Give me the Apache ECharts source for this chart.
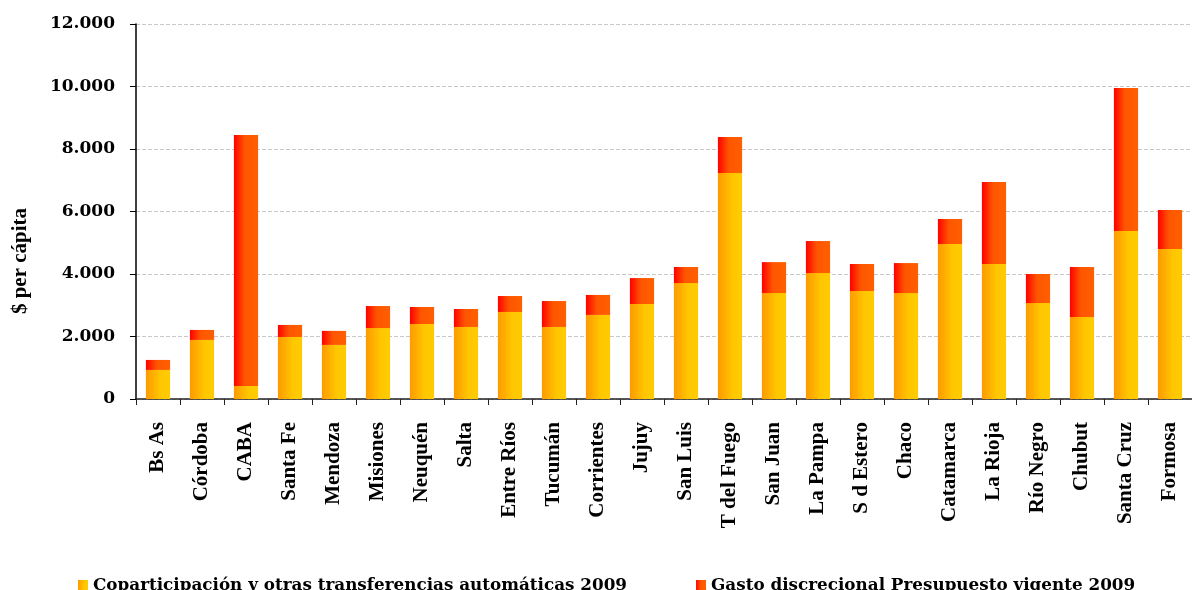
<!DOCTYPE html>
<html>
<head>
<meta charset="utf-8">
<script src="https://cdn.jsdelivr.net/npm/echarts@6/dist/echarts.min.js"></script>
<style>
html,body{margin:0;padding:0;background:#fff;}
#chart{width:1192px;height:590px;}
</style>
</head>
<body>
<div id="chart"></div>
<script>
const categories = ["Bs As","Córdoba","CABA","Santa Fe","Mendoza","Misiones","Neuquén","Salta","Entre Ríos","Tucumán","Corrientes","Jujuy","San Luis","T del Fuego","San Juan","La Pampa","S d Estero","Chaco","Catamarca","La Rioja","Río Negro","Chubut","Santa Cruz","Formosa"];
const coparticipacion = [930,1890,420,1985,1730,2270,2400,2305,2785,2305,2690,3040,3710,7230,3390,4030,3455,3390,4960,4320,3070,2625,5375,4800];
const discrecional = [320,320,8030,385,450,705,545,575,510,830,640,830,515,1155,990,1025,865,960,800,2625,930,1600,4575,1250];
const seriesNames = ["Coparticipación y otras transferencias automáticas 2009","Gasto discrecional Presupuesto vigente 2009"];
const yAxisTitle = "$ per cápita";
const yTicks = {min:0, max:12000, interval:2000};

const FONT = "DejaVu Serif";
const FONT2 = "Liberation Serif";
const gradYellow = new echarts.graphic.LinearGradient(0,0,1,0,[
  {offset:0,color:'#ff9900'},{offset:0.6,color:'#ffc600'},{offset:1,color:'#ffcc00'}]);
const gradRed = new echarts.graphic.LinearGradient(0,0,1,0,[
  {offset:0,color:'#ff0000'},{offset:0.45,color:'#ff5500'},{offset:1,color:'#ff6000'}]);

const chart = echarts.init(document.getElementById('chart'));
chart.setOption({
  animation:false,
  backgroundColor:'#fff',
  grid:{left:136, right:0, top:24, bottom:191, containLabel:false},
  legend:{
    top:572, left:73, itemGap:69, itemWidth:10, itemHeight:11, icon:'rect',
    textStyle:{fontFamily:FONT, fontWeight:'bold', fontSize:16.8, color:'#000'},
    data:[{name:seriesNames[0], itemStyle:{color:gradYellow}},{name:seriesNames[1], itemStyle:{color:gradRed}}]
  },
  graphic:[{
    type:'text', x:21, y:261, rotation:Math.PI/2,
    style:{text:yAxisTitle, fontFamily:FONT2, fontWeight:'bold', fontSize:21, fill:'#000', align:'center', verticalAlign:'middle'}
  }],
  xAxis:{
    type:'category', data:categories,
    axisLine:{lineStyle:{color:'#222', width:1.5}},
    axisTick:{show:true, length:6, alignWithLabel:false, lineStyle:{color:'#222'}},
    axisLabel:{rotate:90, margin:23, interval:0, fontFamily:FONT2, fontWeight:'bold', fontSize:21, color:'#000'}
  },
  yAxis:{
    type:'value', min:yTicks.min, max:yTicks.max, interval:yTicks.interval,
    axisLine:{show:true, lineStyle:{color:'#000', width:1.5}},
    axisTick:{show:true, length:6, lineStyle:{color:'#000'}},
    axisLabel:{margin:21, fontFamily:FONT, fontWeight:'bold', fontSize:17, color:'#000',
      formatter:v=>String(v).replace(/\B(?=(\d{3})+(?!\d))/g,'.')},
    splitLine:{show:true, lineStyle:{color:'#c8c8c8', type:'dashed', width:1}}
  },
  series:[
    {name:seriesNames[0], type:'bar', stack:'t', barWidth:'55%', data:coparticipacion, itemStyle:{color:gradYellow}},
    {name:seriesNames[1], type:'bar', stack:'t', barWidth:'55%', data:discrecional, itemStyle:{color:gradRed}}
  ]
});
</script>
</body>
</html>
